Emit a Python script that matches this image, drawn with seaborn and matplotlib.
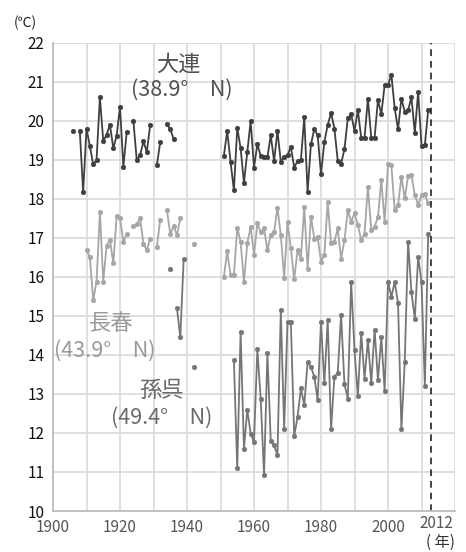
import numpy as np
import pandas as pd
import matplotlib
matplotlib.use("Agg")
import matplotlib.pyplot as plt
import seaborn as sns

# =====================================================
# Data: annual mean temperature (deg C)
# =====================================================
nan = np.nan

dalian_years = list(range(1906, 1937)) + list(range(1951, 2013))
dalian_temp = [
    19.74, nan, 19.74, 18.17, 19.80, 19.35, 18.88, 19.00, 20.60, 19.48,
    19.64, 19.90, 19.29, 19.62, 20.36, 18.82, 19.70, nan, 19.99, 18.99,
    19.12, 19.47, 19.20, 19.88, nan, 18.86, 19.45, nan, 19.92, 19.78,
    19.54,
    # 1951-2012
    19.10, 19.74, 18.95, 18.22, 19.82, 19.30, 18.40, 19.20, 19.99, 18.80,
    19.40, 19.10, 19.08, 19.06, 19.63, 18.97, 19.74, 18.95, 19.08, 19.12,
    19.33, 18.80, 18.97, 18.99, 20.09, 18.18, 19.40, 19.78, 19.63, 18.63,
    19.46, 19.89, 20.20, 19.80, 18.97, 18.90, 19.27, 20.06, 20.17, 19.74,
    20.27, 19.57, 19.57, 20.56, 19.57, 19.57, 20.53, 20.17, 20.91, 20.91,
    21.18, 20.32, 19.78, 20.57, 20.23, 20.27, 20.60, 19.69, 20.74, 19.36,
    19.38, 20.27,
]

changchun_years = list(range(1910, 1943)) + list(range(1951, 2013))
changchun_temp = [
    16.70, 16.50, 15.40, 15.88, 17.65, 15.88, 16.80, 16.95, 16.35, 17.55,
    17.50, 16.90, 17.10, nan, 17.30, 17.35, 17.50, 16.85, 16.68, 16.98,
    nan, 16.77, 17.45, nan, 17.72, 17.10, 17.30, 17.07, 17.50, nan,
    nan, nan, 16.85,
    # 1951-2012
    16.00, 16.65, 16.05, 16.05, 17.25, 16.90, 15.87, 16.86, 17.28, 16.56,
    17.37, 17.15, 17.24, 16.68, 17.07, 17.15, 17.77, 17.07, 15.98, 17.41,
    16.73, 15.94, 16.68, 16.47, 17.80, 16.20, 17.54, 16.98, 17.03, 16.39,
    16.56, 17.92, 16.86, 16.90, 17.24, 16.47, 16.94, 17.71, 17.41, 17.64,
    17.33, 16.94, 17.11, 18.31, 17.20, 17.28, 17.54, 18.48, 17.41, 18.88,
    18.86, 17.71, 17.84, 18.56, 18.01, 18.58, 18.61, 18.10, 17.84, 18.10,
    18.12, 17.88,
]

sunwu_years = list(range(1935, 1943)) + list(range(1954, 2013))
sunwu_temp = [
    16.20, nan, 15.20, 14.45, 16.45, nan, nan, 13.70,
    # 1954-2012
    13.86, 11.09, 14.59, 11.60, 12.60, 11.98, 11.77, 14.14, 12.88, 10.92,
    14.04, 11.80, 11.68, 11.43, 15.15, 12.11, 14.85, 14.85, 11.92, 12.41,
    13.14, 12.71, 13.82, 13.69, 13.44, 12.84, 14.85, 13.27, 14.89, 12.09,
    13.44, 13.54, 15.03, 13.25, 12.88, 15.87, 14.12, 12.94, 14.56, 13.39,
    14.39, 13.27, 14.65, 13.35, 14.45, 13.08, 15.87, 15.49, 15.87, 15.32,
    12.09, 13.82, 16.90, 15.60, 14.93, 16.51, 15.87, 13.20, 17.11,
]

station_names = ["大連", "長春", "孫呉"]
station_lat = ["(38.9°　N)", "(43.9°　N)", "(49.4°　N)"]
station_colors = ["#3f3f3f", "#a6a6a6", "#767676"]
text_colors = ["#505050", "#9a9a9a", "#6a6a6a"]

x_ticks = list(range(1900, 2021, 10))
x_labels = ["1900", "", "1920", "", "1940", "", "1960", "", "1980", "", "2000", "", ""]
y_ticks = list(range(10, 23))


def to_frame(years, temps):
    # split into separate line segments wherever a year is missing
    d = pd.DataFrame({"year": years, "temp": temps})
    d["seg"] = ((d["year"].diff() != 1) | d["temp"].isna()).cumsum()
    return d.dropna()


frames = [
    to_frame(dalian_years, dalian_temp),
    to_frame(changchun_years, changchun_temp),
    to_frame(sunwu_years, sunwu_temp),
]

# =====================================================
# Plot
# =====================================================
sns.set_theme(style="white")
plt.rcParams["font.family"] = ["Noto Sans CJK JP", "DejaVu Sans"]

fig = plt.figure(figsize=(4.66, 5.52), dpi=100)
ax = fig.add_axes([53 / 466, 41 / 552, 402 / 466, 468.3 / 552])

for d, c in zip(frames, station_colors):
    sns.lineplot(
        data=d, x="year", y="temp", units="seg", estimator=None,
        color=c, linewidth=1.3, marker="o", markersize=3.3,
        markeredgecolor=c, markeredgewidth=0.4, legend=False, ax=ax,
    )

ax.axvline(2012.7, color="#222222", linewidth=1.2, linestyle=(0, (4, 3)))

ax.set_xlim(1900, 2020)
ax.set_ylim(10, 22)
ax.set_xticks(x_ticks)
ax.set_xticklabels(x_labels)
ax.set_yticks(y_ticks)
ax.set_yticklabels([str(v) for v in y_ticks])
ax.grid(True, color="#d9d9d9", linewidth=1.2)
ax.set_axisbelow(True)
ax.tick_params(axis="both", length=0)
ax.tick_params(axis="x", labelsize=11, colors="#555555", pad=5.5)
ax.tick_params(axis="y", labelsize=11, colors="#111111", pad=6)
ax.set_xlabel("")
ax.set_ylabel("")

for side in ["top", "right"]:
    ax.spines[side].set_visible(False)
for side in ["left", "bottom"]:
    ax.spines[side].set_color("#bdbdbd")
    ax.spines[side].set_linewidth(1.3)

# station labels
name_pos = [(1937.5, 21.45), (1917.5, 14.8), (1932.5, 13.1)]
lat_pos = [(1938.5, 20.8), (1915.5, 14.1), (1932.5, 12.4)]
for name, lat, p1, p2, c in zip(station_names, station_lat, name_pos, lat_pos, text_colors):
    ax.text(p1[0], p1[1], name, color=c, fontsize=16, ha="center", va="center")
    ax.text(p2[0], p2[1], lat, color=c, fontsize=15.5, ha="center", va="center")

fig.text(25 / 466, 1 - 23 / 552, "(℃)", fontsize=10, ha="center", va="center", color="#222222")
fig.text(436 / 466, 1 - 524 / 552, "2012", fontsize=11, ha="center", va="center", color="#555555")
fig.text(440 / 466, 1 - 542 / 552, "( 年)", fontsize=11, ha="center", va="center", color="#333333")

fig.savefig("out.png", dpi=100)
plt.close(fig)
